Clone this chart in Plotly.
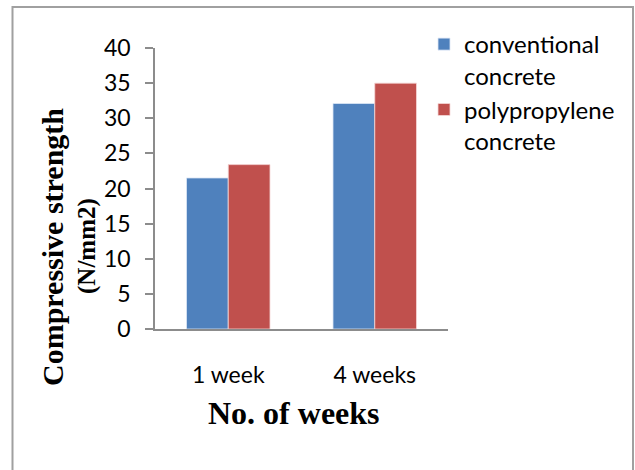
import plotly.graph_objects as go

categories = ["1 week", "4 weeks"]
conventional = [21.5, 32.1]
polypropylene = [23.4, 35.0]
series_names = ["conventional<br>concrete", "polypropylene<br>concrete"]
y_ticks = [0, 5, 10, 15, 20, 25, 30, 35, 40]

W, H = 635, 470
L, R, T, B = 155, 187, 48, 141
pw, ph = W - L - R, H - T - B

def px(xp):
    return (xp - L) / pw

def py(yp):
    return (H - B - yp) / ph

fig = go.Figure()
fig.add_trace(go.Bar(x=categories, y=conventional, name=series_names[0],
                     marker=dict(color="#4F81BD", line=dict(color="rgba(220,230,245,0.8)", width=1))))
fig.add_trace(go.Bar(x=categories, y=polypropylene, name=series_names[1],
                     marker=dict(color="#C0504D", line=dict(color="rgba(245,215,215,0.8)", width=1))))

fig.update_layout(
    width=W, height=H,
    margin=dict(l=L, r=R, t=T, b=B),
    paper_bgcolor="white", plot_bgcolor="white",
    barmode="group", bargap=0.43, bargroupgap=0,
    font=dict(family="Lato", color="black"),
    showlegend=True,
    legend=dict(x=px(424), y=py(22), xanchor="left", yanchor="top",
                font=dict(family="Lato", size=24, color="black"),
                valign="top", tracegroupgap=2, itemwidth=30,
                bgcolor="rgba(0,0,0,0)"),
    xaxis=dict(showline=True, linecolor="#8C8C8C", linewidth=1.5,
               ticks="outside", ticklen=25, tickcolor="rgba(0,0,0,0)",
               tickfont=dict(family="Lato", size=23, color="black"),
               showgrid=False, zeroline=False),
    yaxis=dict(range=[0, 40], tickvals=y_ticks, showline=True, linecolor="#8C8C8C", linewidth=1.5,
               ticks="outside", ticklen=8, tickcolor="#8C8C8C", tickwidth=1.5,
               ticklabelstandoff=10,
               tickfont=dict(family="Lato", size=23, color="black"),
               showgrid=False, zeroline=False),
)

fig.add_shape(type="rect", xref="paper", yref="paper",
              x0=px(12.5), x1=px(633), y0=py(7), y1=py(480),
              line=dict(color="#A0A0A0", width=2), fillcolor="rgba(0,0,0,0)", layer="below")

fig.add_annotation(text="<b>Compressive strength</b>", xref="paper", yref="paper",
                   x=px(52), y=py(247), xanchor="center", yanchor="middle", textangle=-90,
                   showarrow=False, font=dict(family="Liberation Serif", size=30, color="black"))
fig.add_annotation(text="<b>(N/mm2)</b>", xref="paper", yref="paper",
                   x=px(87), y=py(246), xanchor="center", yanchor="middle", textangle=-90,
                   showarrow=False, font=dict(family="Liberation Serif", size=25, color="black"))
fig.add_annotation(text="<b>No. of weeks</b>", xref="paper", yref="paper",
                   x=px(293.5), y=py(413), xanchor="center", yanchor="middle",
                   showarrow=False, font=dict(family="Liberation Serif", size=32, color="black"))

fig.write_html("out.html", config={"displayModeBar": False},
               post_script="document.body.style.margin='0';document.body.style.padding='0';")
